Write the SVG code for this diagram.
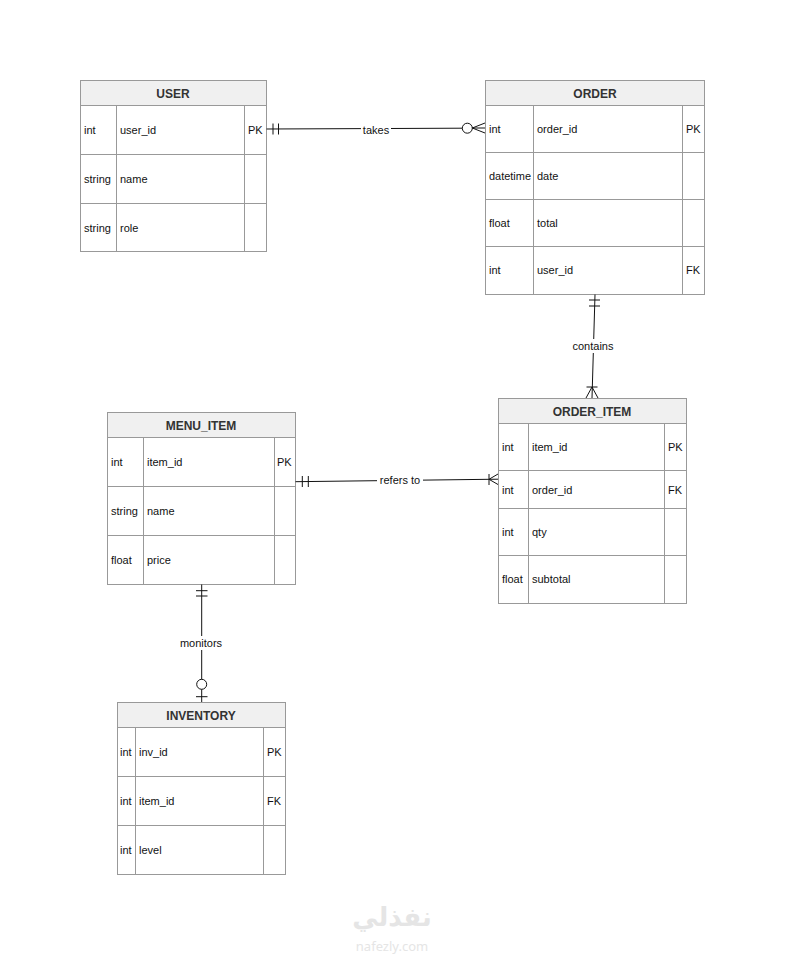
<svg xmlns="http://www.w3.org/2000/svg" width="785" height="955" viewBox="0 0 785 955">
<style>
.box{fill:#fff;stroke:#999;stroke-width:1}
.hdr{fill:#f0f0f0;stroke:#999;stroke-width:1}
.ln{stroke:#999;stroke-width:1}
.t{font-family:"Liberation Sans",Arial,sans-serif;font-size:11px;fill:#111}
.h{font-family:"Liberation Sans",Arial,sans-serif;font-size:12px;font-weight:bold;fill:#333;text-anchor:middle}
.c{stroke:#111;stroke-width:1;fill:none}
.lbl{font-family:"Liberation Sans",Arial,sans-serif;font-size:11px;fill:#111;text-anchor:middle}
.lb{fill:#fff}
</style>
<rect width="785" height="955" fill="#fff"/>

<g id="user">
<rect class="box" x="80.5" y="80.5" width="186" height="171"/>
<rect class="hdr" x="80.5" y="80.5" width="186" height="25"/>
<text class="h" x="173" y="97.5">USER</text>
<line class="ln" x1="80.5" y1="154.5" x2="266.5" y2="154.5"/>
<line class="ln" x1="80.5" y1="203.5" x2="266.5" y2="203.5"/>
<line class="ln" x1="116.5" y1="105.5" x2="116.5" y2="251.5"/>
<line class="ln" x1="244.5" y1="105.5" x2="244.5" y2="251.5"/>
<text class="t" x="84" y="134">int</text><text class="t" x="120" y="134">user_id</text><text class="t" x="248" y="134">PK</text>
<text class="t" x="84" y="183">string</text><text class="t" x="120" y="183">name</text>
<text class="t" x="84" y="232">string</text><text class="t" x="120" y="232">role</text>
</g>

<g id="order">
<rect class="box" x="485.5" y="80.5" width="219" height="214"/>
<rect class="hdr" x="485.5" y="80.5" width="219" height="25"/>
<text class="h" x="595" y="97.5">ORDER</text>
<line class="ln" x1="485.5" y1="152.5" x2="704.5" y2="152.5"/>
<line class="ln" x1="485.5" y1="199.5" x2="704.5" y2="199.5"/>
<line class="ln" x1="485.5" y1="246.5" x2="704.5" y2="246.5"/>
<line class="ln" x1="533.5" y1="105.5" x2="533.5" y2="294.5"/>
<line class="ln" x1="682.5" y1="105.5" x2="682.5" y2="294.5"/>
<text class="t" x="489" y="133">int</text><text class="t" x="537" y="133">order_id</text><text class="t" x="686" y="133">PK</text>
<text class="t" x="489" y="180" textLength="42" lengthAdjust="spacingAndGlyphs">datetime</text><text class="t" x="537" y="180">date</text>
<text class="t" x="489" y="227">float</text><text class="t" x="537" y="227">total</text>
<text class="t" x="489" y="274">int</text><text class="t" x="537" y="274">user_id</text><text class="t" x="686" y="274">FK</text>
</g>

<g id="menu_item">
<rect class="box" x="107.5" y="412.5" width="188" height="172"/>
<rect class="hdr" x="107.5" y="412.5" width="188" height="25"/>
<text class="h" x="201" y="429.5">MENU_ITEM</text>
<line class="ln" x1="107.5" y1="486.5" x2="295.5" y2="486.5"/>
<line class="ln" x1="107.5" y1="535.5" x2="295.5" y2="535.5"/>
<line class="ln" x1="143.5" y1="437.5" x2="143.5" y2="584.5"/>
<line class="ln" x1="274.5" y1="437.5" x2="274.5" y2="584.5"/>
<text class="t" x="111" y="466">int</text><text class="t" x="147" y="466">item_id</text><text class="t" x="277" y="466">PK</text>
<text class="t" x="111" y="515">string</text><text class="t" x="147" y="515">name</text>
<text class="t" x="111" y="564">float</text><text class="t" x="147" y="564">price</text>
</g>

<g id="order_item">
<rect class="box" x="498.5" y="398.5" width="188" height="205"/>
<rect class="hdr" x="498.5" y="398.5" width="188" height="25"/>
<text class="h" x="592" y="415.5">ORDER_ITEM</text>
<line class="ln" x1="498.5" y1="470.5" x2="686.5" y2="470.5"/>
<line class="ln" x1="498.5" y1="508.5" x2="686.5" y2="508.5"/>
<line class="ln" x1="498.5" y1="555.5" x2="686.5" y2="555.5"/>
<line class="ln" x1="528.5" y1="423.5" x2="528.5" y2="603.5"/>
<line class="ln" x1="664.5" y1="423.5" x2="664.5" y2="603.5"/>
<text class="t" x="502" y="451">int</text><text class="t" x="532" y="451">item_id</text><text class="t" x="668" y="451">PK</text>
<text class="t" x="502" y="494">int</text><text class="t" x="532" y="494">order_id</text><text class="t" x="668" y="494">FK</text>
<text class="t" x="502" y="536">int</text><text class="t" x="532" y="536">qty</text>
<text class="t" x="502" y="583">float</text><text class="t" x="532" y="583">subtotal</text>
</g>

<g id="inventory">
<rect class="box" x="117.5" y="702.5" width="168" height="172"/>
<rect class="hdr" x="117.5" y="702.5" width="168" height="25"/>
<text class="h" x="201" y="719.5">INVENTORY</text>
<line class="ln" x1="117.5" y1="776.5" x2="285.5" y2="776.5"/>
<line class="ln" x1="117.5" y1="825.5" x2="285.5" y2="825.5"/>
<line class="ln" x1="135.5" y1="727.5" x2="135.5" y2="874.5"/>
<line class="ln" x1="263.5" y1="727.5" x2="263.5" y2="874.5"/>
<text class="t" x="120" y="756">int</text><text class="t" x="139" y="756">inv_id</text><text class="t" x="267" y="756">PK</text>
<text class="t" x="120" y="805">int</text><text class="t" x="139" y="805">item_id</text><text class="t" x="267" y="805">FK</text>
<text class="t" x="120" y="854">int</text><text class="t" x="139" y="854">level</text>
</g>

<g id="connectors">
<!-- takes -->
<path class="c" d="M266.5 129 L462 128.2"/>
<path class="c" d="M273 123.5 V134.5 M278.5 123.5 V134.5"/>
<circle class="c" cx="467.3" cy="128.2" r="5"/>
<path class="c" d="M472.3 128 L485 128 M472.3 128 L485 123 M472.3 128 L485 133"/>
<rect class="lb" x="361" y="123" width="30" height="13"/>
<text class="lbl" x="376" y="133.5">takes</text>

<!-- contains -->
<path class="c" d="M595 294.5 L592 398"/>
<path class="c" d="M589 300 H600 M589 306 H600"/>
<path class="c" d="M586.5 387 H597.5 M592 387 L586 398 M592 387 L598 398"/>
<rect class="lb" x="571" y="339" width="44" height="14"/>
<text class="lbl" x="593" y="350">contains</text>

<!-- refers to -->
<path class="c" d="M295.5 481.7 L498 479.2"/>
<path class="c" d="M302.3 476 V487 M308.3 476 V487"/>
<path class="c" d="M489 474 V485 M489 479.3 L498 474 M489 479.3 L498 484.5"/>
<rect class="lb" x="377" y="474" width="46" height="13"/>
<text class="lbl" x="400" y="484">refers to</text>

<!-- monitors -->
<path class="c" d="M201.7 584.5 V679.3 M201.7 689.3 V702"/>
<path class="c" d="M196 590.7 H207.5 M196 596 H207.5"/>
<circle class="c" cx="201.7" cy="684.3" r="5"/>
<path class="c" d="M196 696.7 H207.5"/>
<rect class="lb" x="178" y="636" width="47" height="14"/>
<text class="lbl" x="201" y="647">monitors</text>
</g>

<g id="watermark" opacity="0.5">
<text x="392" y="926" font-family="'Noto Sans','DejaVu Sans',sans-serif" font-size="26" font-weight="bold" fill="#ccc" text-anchor="middle">نفذلي</text>
<text x="392" y="951" font-family="'Noto Sans','DejaVu Sans',sans-serif" font-size="13" fill="#ccc" text-anchor="middle">nafezly.com</text>
</g>
</svg>
